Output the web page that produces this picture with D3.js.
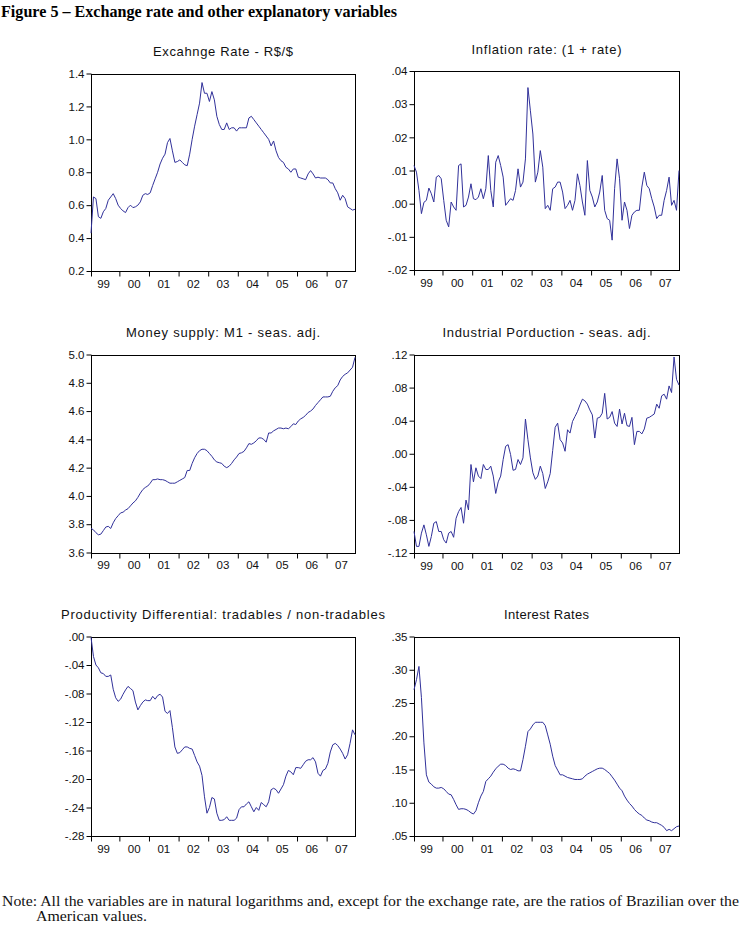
<!DOCTYPE html>
<html><head><meta charset="utf-8">
<script src="https://cdn.jsdelivr.net/npm/d3@7"></script>
<style>body{margin:0;background:#fff}svg{display:block}</style>
</head><body>
<svg id="chart" width="742" height="929"></svg>
<script>
// Monthly observations, 1999M01 - 2007M12
const yearLabels = ["99","00","01","02","03","04","05","06","07"];

const exchangeRate = [
 0.43,0.65,0.64,0.53,0.52,0.56,0.58,0.63,0.65,0.67,0.64,0.60,
 0.58,0.565,0.555,0.585,0.60,0.585,0.59,0.60,0.62,0.66,0.67,0.665,
 0.675,0.72,0.76,0.80,0.85,0.885,0.91,0.98,1.005,0.93,0.86,0.865,
 0.875,0.86,0.845,0.84,0.91,1.00,1.08,1.15,1.22,1.345,1.28,1.28,
 1.23,1.29,1.24,1.14,1.09,1.06,1.06,1.10,1.06,1.07,1.07,1.05,
 1.07,1.07,1.07,1.07,1.13,1.14,1.12,1.10,1.08,1.06,1.04,1.02,
 1.00,0.96,0.99,0.93,0.89,0.87,0.86,0.83,0.82,0.80,0.82,0.82,
 0.77,0.765,0.76,0.755,0.79,0.81,0.79,0.765,0.77,0.765,0.765,0.765,
 0.755,0.735,0.735,0.70,0.675,0.63,0.66,0.64,0.59,0.58,0.57,0.575
];

const inflation = [
 0.0115,0.0095,0.004,-0.003,0.0004,0.001,0.0047,0.003,0.0005,0.008,0.0085,0.0075,
 0.001,-0.005,-0.007,0.0005,-0.001,-0.002,0.0115,0.012,-0.001,-0.0005,0.002,0.006,
 0.0015,0.0012,0.002,0.0045,0.0015,0.0045,0.0145,0.004,-0.001,0.0125,0.0145,0.0115,
 0.008,-0.0005,0.0005,0.0015,0.001,0.004,0.0105,0.005,0.0065,0.0135,0.035,0.028,
 0.021,0.0065,0.0095,0.016,0.011,-0.0015,-0.0005,-0.002,0.0045,0.005,0.0065,0.0065,
 0.0035,-0.0015,-0.0005,0.001,-0.002,0.001,0.009,0.0055,0.0005,-0.0035,0.013,0.004,
 0.002,-0.001,0.0005,0.0035,0.0085,-0.002,-0.0045,-0.005,-0.011,0.0045,0.0135,0.0075,
 -0.005,0.0005,-0.002,-0.0075,-0.0035,-0.0025,-0.002,-0.002,0.005,0.0095,0.0055,0.0045,
 0.0015,-0.001,-0.0045,-0.0035,-0.0035,0.001,0.004,0.008,-0.0005,0.001,-0.002,0.010
];

const moneySupply = [
 3.77,3.76,3.74,3.725,3.73,3.755,3.78,3.785,3.77,3.81,3.84,3.86,
 3.88,3.885,3.90,3.91,3.93,3.95,3.965,3.99,4.02,4.045,4.06,4.07,
 4.09,4.115,4.115,4.12,4.115,4.115,4.11,4.10,4.09,4.09,4.09,4.10,
 4.11,4.12,4.13,4.18,4.18,4.23,4.27,4.30,4.32,4.33,4.33,4.32,
 4.30,4.28,4.255,4.24,4.235,4.23,4.21,4.20,4.21,4.23,4.255,4.275,
 4.30,4.305,4.315,4.34,4.37,4.365,4.375,4.39,4.41,4.41,4.40,4.38,
 4.445,4.445,4.46,4.47,4.48,4.48,4.475,4.48,4.475,4.49,4.51,4.505,
 4.53,4.545,4.555,4.57,4.59,4.60,4.615,4.64,4.66,4.68,4.70,4.70,
 4.70,4.705,4.74,4.765,4.78,4.82,4.845,4.86,4.87,4.89,4.91,4.98
];

const industrialProduction = [
 -0.094,-0.112,-0.112,-0.096,-0.086,-0.098,-0.112,-0.100,-0.084,-0.082,-0.094,-0.094,
 -0.104,-0.108,-0.096,-0.094,-0.101,-0.078,-0.070,-0.065,-0.084,-0.056,-0.068,-0.013,
 -0.034,-0.017,-0.027,-0.030,-0.013,-0.019,-0.019,-0.015,-0.027,-0.048,-0.034,-0.027,
 -0.007,0.009,0.011,-0.001,-0.020,-0.019,-0.007,-0.013,-0.005,0.042,0.017,-0.005,
 -0.023,-0.031,-0.027,-0.015,-0.024,-0.042,-0.034,-0.024,0.004,0.032,0.037,0.017,
 0.013,0.003,0.029,0.025,0.039,0.045,0.051,0.059,0.066,0.064,0.060,0.053,
 0.047,0.019,0.043,0.044,0.049,0.073,0.042,0.044,0.051,0.037,0.033,0.054,
 0.036,0.049,0.034,0.033,0.044,0.011,0.027,0.027,0.024,0.030,0.043,0.044,
 0.046,0.048,0.060,0.055,0.070,0.072,0.066,0.082,0.074,0.117,0.090,0.083
];

const productivityDiff = [
 -0.001,-0.028,-0.040,-0.044,-0.051,-0.052,-0.056,-0.056,-0.054,-0.074,-0.086,-0.091,
 -0.088,-0.081,-0.075,-0.070,-0.073,-0.076,-0.092,-0.103,-0.097,-0.092,-0.089,-0.090,
 -0.090,-0.084,-0.088,-0.083,-0.081,-0.085,-0.105,-0.108,-0.104,-0.128,-0.155,-0.164,
 -0.163,-0.159,-0.155,-0.155,-0.157,-0.158,-0.167,-0.176,-0.182,-0.195,-0.225,-0.248,
 -0.240,-0.226,-0.228,-0.248,-0.258,-0.258,-0.257,-0.253,-0.258,-0.258,-0.258,-0.255,
 -0.243,-0.239,-0.239,-0.235,-0.232,-0.239,-0.246,-0.240,-0.244,-0.233,-0.236,-0.239,
 -0.232,-0.215,-0.213,-0.215,-0.220,-0.214,-0.208,-0.196,-0.188,-0.190,-0.194,-0.184,
 -0.184,-0.185,-0.180,-0.175,-0.173,-0.173,-0.170,-0.176,-0.192,-0.196,-0.188,-0.186,
 -0.178,-0.162,-0.152,-0.150,-0.153,-0.158,-0.164,-0.172,-0.166,-0.150,-0.131,-0.138
];

const interestRates = [
 0.270,0.285,0.305,0.258,0.190,0.142,0.131,0.128,0.124,0.122,0.122,0.123,
 0.121,0.117,0.113,0.112,0.105,0.097,0.090,0.091,0.091,0.090,0.088,0.085,
 0.083,0.088,0.100,0.110,0.117,0.132,0.136,0.140,0.146,0.151,0.155,0.158,
 0.158,0.156,0.152,0.150,0.151,0.150,0.148,0.148,0.165,0.185,0.207,0.211,
 0.217,0.221,0.221,0.221,0.221,0.216,0.202,0.188,0.170,0.156,0.149,0.142,
 0.142,0.140,0.138,0.137,0.136,0.135,0.135,0.135,0.136,0.140,0.143,0.145,
 0.147,0.149,0.151,0.152,0.152,0.150,0.147,0.144,0.139,0.134,0.128,0.122,
 0.118,0.110,0.104,0.099,0.095,0.090,0.086,0.083,0.081,0.077,0.074,0.073,
 0.071,0.070,0.070,0.068,0.066,0.063,0.058,0.060,0.058,0.061,0.064,0.065
];

const erTicks   = [0.2,0.4,0.6,0.8,1.0,1.2,1.4];
const infTicks  = [-0.02,-0.01,0.00,0.01,0.02,0.03,0.04];
const m1Ticks   = [3.6,3.8,4.0,4.2,4.4,4.6,4.8,5.0];
const ipTicks   = [-0.12,-0.08,-0.04,0.00,0.04,0.08,0.12];
const pdTicks   = [-0.28,-0.24,-0.20,-0.16,-0.12,-0.08,-0.04,0.00];
const irTicks   = [0.05,0.10,0.15,0.20,0.25,0.30,0.35];

const fmt1 = d => d.toFixed(1);
const fmtDot = d => { const s = d.toFixed(2); return s.replace("0.", "."); };

const panels = [
 {title:"Excahnge Rate - R$/$", tw:140, data:exchangeRate, ticks:erTicks, fmt:fmt1, box:[91,73.5,355,271]},
 {title:"Inflation rate: (1 + rate)", tw:150, data:inflation, ticks:infTicks, fmt:fmtDot, box:[414,71,679,270]},
 {title:"Money supply: M1 - seas. adj.", tw:194, data:moneySupply, ticks:m1Ticks, fmt:fmt1, box:[91,354.5,355,552.5]},
 {title:"Industrial Porduction - seas. adj.", tw:208, data:industrialProduction, ticks:ipTicks, fmt:fmtDot, box:[414,354.5,679,553]},
 {title:"Productivity Differential: tradables / non-tradables", tw:324, data:productivityDiff, ticks:pdTicks, fmt:fmtDot, box:[91,636.5,355,836]},
 {title:"Interest Rates", tw:85, data:interestRates, ticks:irTicks, fmt:fmtDot, box:[414,636.5,679,836]}
];

const svg = d3.select("#chart");
const sans = "'Liberation Sans', Arial, sans-serif";
const serif = "'Liberation Serif', 'Times New Roman', serif";
const lineColor = "#31319a";

svg.append("text").attr("x",1).attr("y",17)
  .attr("font-family",serif).attr("font-weight","bold").attr("font-size",17)
  .attr("textLength",396).attr("lengthAdjust","spacingAndGlyphs")
  .text("Figure 5 \u2013 Exchange rate and other explanatory variables");

panels.forEach(p => {
  const [x0,y0,x1,y1] = p.box;
  const n = p.data.length;
  const x = d3.scaleLinear().domain([0,n-1]).range([x0,x1]);
  const y = d3.scaleLinear().domain([p.ticks[0], p.ticks[p.ticks.length-1]]).range([y1,y0]);
  const g = svg.append("g");

  // title
  g.append("text").attr("x",(x0+x1)/2).attr("y",y0-17.5)
    .attr("text-anchor","middle").attr("font-family",sans).attr("font-size",13)
    .attr("textLength",p.tw).attr("lengthAdjust","spacing")
    .attr("fill","#111").text(p.title);

  // y axis
  const ya = g.append("g").attr("transform",`translate(${Math.round(x0)+0.5},0)`)
    .call(d3.axisLeft(y).tickValues(p.ticks).tickFormat(p.fmt).tickSize(5).tickPadding(2));
  ya.select(".domain").remove();
  ya.selectAll("text").attr("font-family",sans).attr("font-size",11.5).attr("fill","#111");
  ya.selectAll("line").attr("stroke","#000");

  // x axis ticks (year boundaries)
  const tickIdx = [0].concat(yearLabels.slice(1).map((_,i)=>11.5+12*i));
  const xa = g.append("g").attr("transform",`translate(0,${Math.round(y1)+0.5})`)
    .call(d3.axisBottom(x).tickValues(tickIdx).tickFormat("").tickSize(5));
  xa.select(".domain").remove();
  xa.selectAll("line").attr("stroke","#000");

  // year labels centred on each year
  g.selectAll("text.yr").data(yearLabels).join("text").attr("class","yr")
    .attr("x",(d,i)=>x(Math.min(5.5+12*i, n-1)) - (i===0?1:0))
    .attr("y",y1+16.5).attr("text-anchor","middle")
    .attr("font-family",sans).attr("font-size",11.5).attr("fill","#111").text(d=>d);

  // frame
  g.append("rect").attr("x",Math.round(x0)+0.5).attr("y",Math.round(y0)+0.5)
    .attr("width",Math.round(x1)-Math.round(x0)).attr("height",Math.round(y1)-Math.round(y0))
    .attr("fill","none").attr("stroke","#000").attr("stroke-width",1);

  // series
  g.append("path").datum(p.data)
    .attr("d", d3.line().x((d,i)=>x(i)).y(d=>y(d)))
    .attr("fill","none").attr("stroke",lineColor).attr("stroke-width",1);
});

// note
svg.append("text").attr("x",2).attr("y",906)
  .attr("font-family",serif).attr("font-size",14.5)
  .attr("textLength",737).attr("lengthAdjust","spacingAndGlyphs").attr("fill","#111")
  .text("Note: All the variables are in natural logarithms and, except for the exchange rate, are the ratios of Brazilian over the");
svg.append("text").attr("x",36).attr("y",921)
  .attr("font-family",serif).attr("font-size",14.5)
  .attr("textLength",111).attr("lengthAdjust","spacingAndGlyphs").attr("fill","#111")
  .text("American values.");
</script>
</body></html>
